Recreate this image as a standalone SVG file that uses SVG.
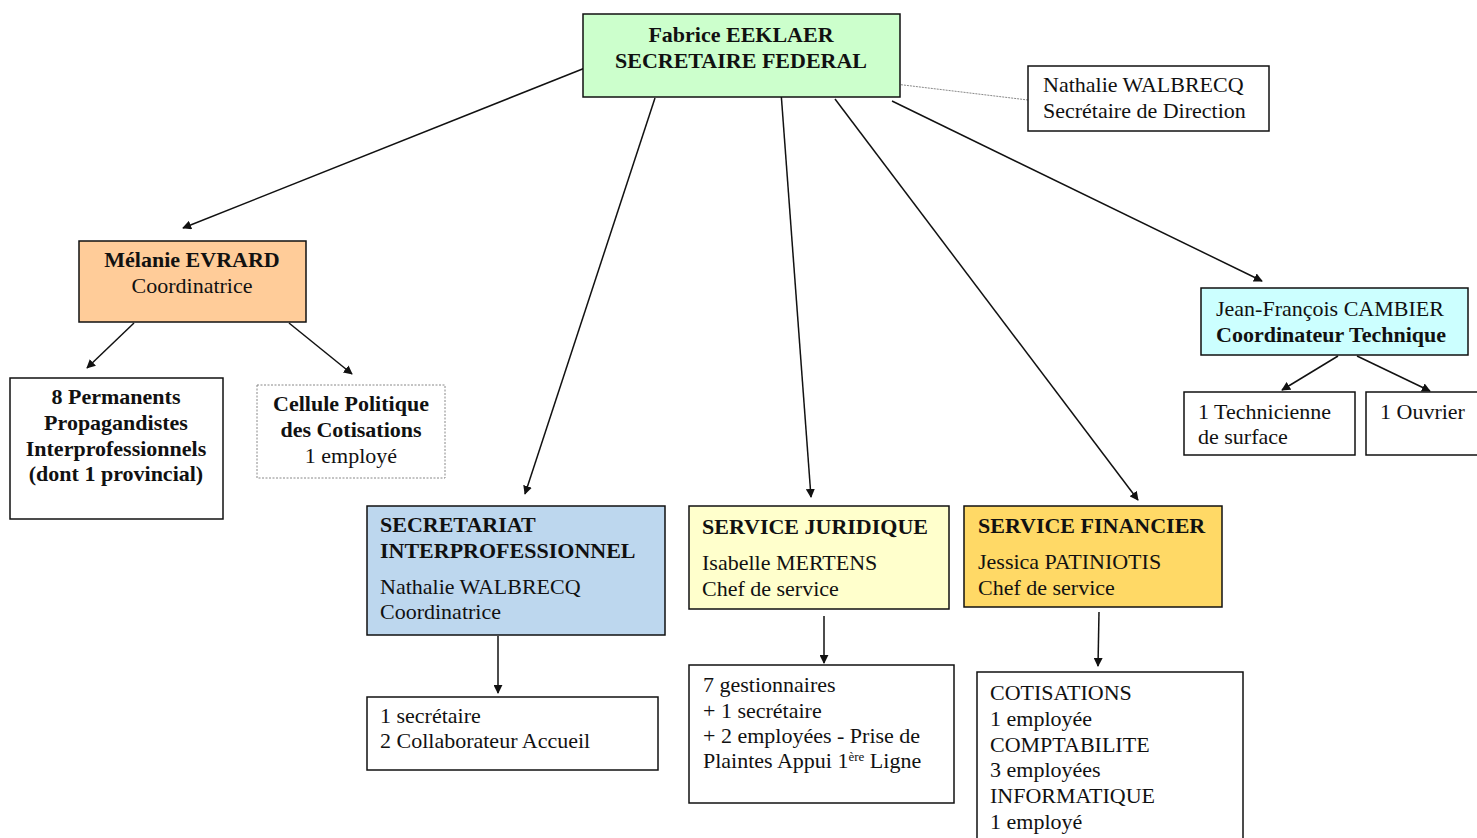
<svg xmlns="http://www.w3.org/2000/svg" width="1477" height="838" viewBox="0 0 1477 838">
<style>
text{font-family:"Liberation Serif","Times New Roman",Times,serif;font-size:22px;fill:#111}
.b{font-weight:bold}
.c{text-anchor:middle}
.box{stroke:#111;stroke-width:1.5}
.conn line{stroke:#111;stroke-width:1.5;marker-end:url(#ah)}
</style>
<defs>
<marker id="ah" viewBox="0 0 10 10" refX="9" refY="5" markerWidth="9" markerHeight="9" markerUnits="userSpaceOnUse" orient="auto">
<path d="M0,0 L10,5 L0,10 z" fill="#111"/>
</marker>
</defs>
<rect width="1477" height="838" fill="#fff"/>
<g class="conn" id="connectors">
<line x1="585" y1="68" x2="183" y2="228"/>
<line x1="655" y1="98" x2="525" y2="494"/>
<line x1="781" y1="92" x2="811" y2="497"/>
<line x1="835" y1="99" x2="1138" y2="500"/>
<line x1="892" y1="101" x2="1262" y2="281"/>
<line x1="134" y1="323" x2="87" y2="368"/>
<line x1="289" y1="323" x2="352" y2="374"/>
<line x1="1338" y1="356" x2="1282" y2="390"/>
<line x1="1357" y1="356" x2="1430" y2="391"/>
<line x1="498" y1="636" x2="498" y2="693"/>
<line x1="824" y1="616" x2="824" y2="663"/>
<line x1="1099" y1="612" x2="1098" y2="666"/>
<path d="M895,84 L1028,100" stroke="#888" stroke-width="1" stroke-dasharray="2,1" fill="none"/>
</g>
<g id="n-eeklaer">
<rect class="box" x="583" y="14" width="317" height="83" fill="#ccffcc"/>
<text class="b c" x="741" y="42">Fabrice EEKLAER</text>
<text class="b c" x="741" y="68">SECRETAIRE FEDERAL</text>
</g>
<g id="n-walbrecq-dir">
<rect class="box" x="1028" y="66" width="241" height="65" fill="#fff"/>
<text x="1043" y="92">Nathalie WALBRECQ</text>
<text x="1043" y="118">Secrétaire de Direction</text>
</g>
<g id="n-evrard">
<rect class="box" x="79" y="241" width="227" height="81" fill="#ffcc99"/>
<text class="b c" x="192" y="267">Mélanie EVRARD</text>
<text class="c" x="192" y="293">Coordinatrice</text>
</g>
<g id="n-permanents">
<rect class="box" x="10" y="378" width="213" height="141" fill="#fff"/>
<text class="b c" x="116" y="404">8 Permanents</text>
<text class="b c" x="116" y="430">Propagandistes</text>
<text class="b c" x="116" y="456">Interprofessionnels</text>
<text class="b c" x="116" y="481">(dont 1 provincial)</text>
</g>
<g id="n-cellule">
<rect x="257" y="385" width="188" height="93" fill="#fff" stroke="#888" stroke-width="1" stroke-dasharray="2,1.5"/>
<text class="b c" x="351" y="411">Cellule Politique</text>
<text class="b c" x="351" y="437">des Cotisations</text>
<text class="c" x="351" y="463">1 employé</text>
</g>
<g id="n-cambier">
<rect class="box" x="1201" y="288" width="267" height="67" fill="#ccffff"/>
<text x="1216" y="316">Jean-François CAMBIER</text>
<text class="b" x="1216" y="342">Coordinateur Technique</text>
</g>
<g id="n-technicienne">
<rect class="box" x="1184" y="392" width="171" height="63" fill="#fff"/>
<text x="1198" y="419">1 Technicienne</text>
<text x="1198" y="444">de surface</text>
</g>
<g id="n-ouvrier">
<rect class="box" x="1366" y="392" width="130" height="63" fill="#fff"/>
<text x="1380" y="419">1 Ouvrier</text>
</g>
<g id="n-secretariat">
<rect class="box" x="367" y="506" width="298" height="129" fill="#bdd7ee"/>
<text class="b" x="380" y="532">SECRETARIAT</text>
<text class="b" x="380" y="558">INTERPROFESSIONNEL</text>
<text x="380" y="594">Nathalie WALBRECQ</text>
<text x="380" y="619">Coordinatrice</text>
</g>
<g id="n-secretaire">
<rect class="box" x="367" y="697" width="291" height="73" fill="#fff"/>
<text x="380" y="723">1 secrétaire</text>
<text x="380" y="748">2 Collaborateur Accueil</text>
</g>
<g id="n-juridique">
<rect class="box" x="689" y="506" width="260" height="103" fill="#ffffcc"/>
<text class="b" x="702" y="534">SERVICE JURIDIQUE</text>
<text x="702" y="570">Isabelle MERTENS</text>
<text x="702" y="596">Chef de service</text>
</g>
<g id="n-gestionnaires">
<rect class="box" x="689" y="665" width="265" height="138" fill="#fff"/>
<text x="703" y="692">7 gestionnaires</text>
<text x="703" y="718">+ 1 secrétaire</text>
<text x="703" y="743">+ 2 employées - Prise de</text>
<text x="703" y="768">Plaintes Appui 1<tspan dy="-7" font-size="13">ère</tspan><tspan dy="7"> Ligne</tspan></text>
</g>
<g id="n-financier">
<rect class="box" x="964" y="506" width="258" height="101" fill="#ffd966"/>
<text class="b" x="978" y="533">SERVICE FINANCIER</text>
<text x="978" y="569">Jessica PATINIOTIS</text>
<text x="978" y="595">Chef de service</text>
</g>
<g id="n-cotisations">
<rect class="box" x="977" y="672" width="266" height="180" fill="#fff"/>
<text x="990" y="700">COTISATIONS</text>
<text x="990" y="726">1 employée</text>
<text x="990" y="752">COMPTABILITE</text>
<text x="990" y="777">3 employées</text>
<text x="990" y="803">INFORMATIQUE</text>
<text x="990" y="829">1 employé</text>
</g>
</svg>
